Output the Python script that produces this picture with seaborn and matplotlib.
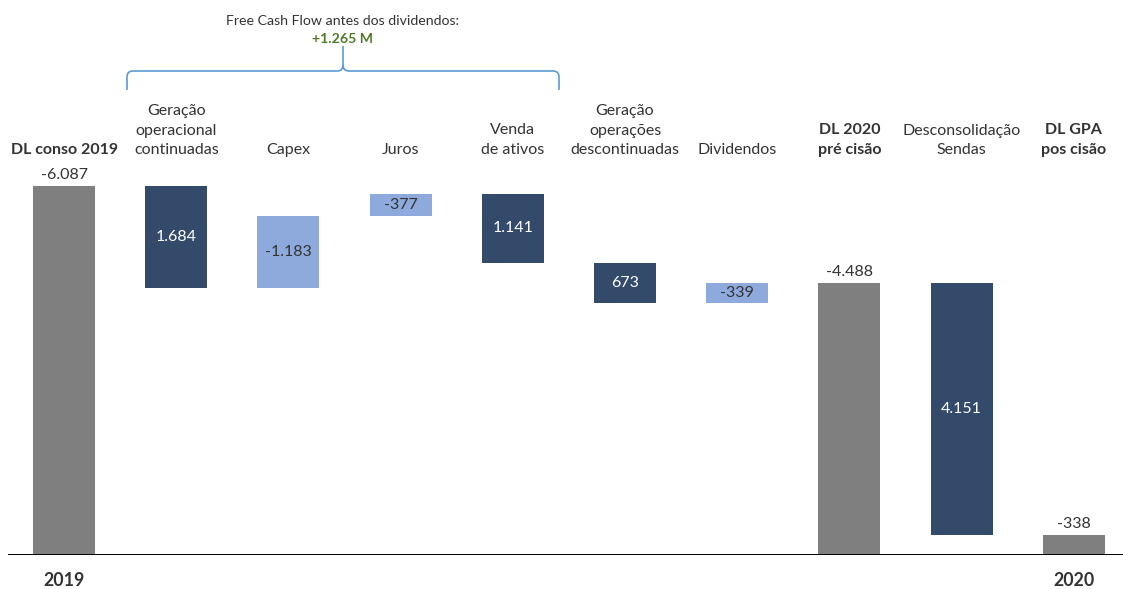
import numpy as np
import pandas as pd
import matplotlib
matplotlib.use("Agg")
import matplotlib.pyplot as plt
import seaborn as sns
from matplotlib.path import Path
from matplotlib.patches import PathPatch
from matplotlib.transforms import blended_transform_factory

# ---------------- data ----------------
categories = ["DL conso 2019", "Geração\noperacional\ncontinuadas", "Capex", "Juros",
              "Venda\nde ativos", "Geração\noperações\ndescontinuadas", "Dividendos",
              "DL 2020\npré cisão", "Desconsolidação\nSendas", "DL GPA\npos cisão"]
values = [-6087, 1684, -1183, -377, 1141, 673, -339, -4488, 4151, -338]
is_total = [True, False, False, False, False, False, False, True, False, True]
value_labels = ["-6.087", "1.684", "-1.183", "-377", "1.141", "673", "-339", "-4.488", "4.151", "-338"]
year_labels = {0: "2019", 9: "2020"}
brace_title = "Free Cash Flow antes dos dividendos:"
brace_value = "+1.265 M"

# ---------------- colors ----------------
GRAY = "#7f7f7f"
NAVY = "#344a6b"
LIGHT = "#8eaadc"
TXT = "#333333"

# ---------------- waterfall geometry from values ----------------
bottoms, heights, colors = [], [], []
level = 0.0
for v, tot in zip(values, is_total):
    if tot:
        level = v
        bottoms.append(0.0)
        heights.append(-v)
        colors.append(GRAY)
    else:
        before = -level
        after = -(level + v)
        bottoms.append(min(before, after))
        heights.append(abs(v))
        colors.append(NAVY if v > 0 else LIGHT)
        level = level + v

df = pd.DataFrame({"cat": [f"c{i}" for i in range(len(categories))],
                   "height": heights})

W, H = 1123, 589
fig = plt.figure(figsize=(W / 100, H / 100), dpi=100)
sns.set_style("white")
plt.rcParams["font.family"] = ["Lato", "DejaVu Sans"]

# axes: baseline at pixel y=555, x from 8 to 1123
ax = fig.add_axes([8 / W, (H - 555) / H, 1 - 8 / W, 555 / H])
sns.barplot(data=df, x="cat", y="height", order=list(df["cat"]), width=0.553,
            bottom=np.array(bottoms), ax=ax, errorbar=None, color=GRAY,
            edgecolor="none")
for p, c in zip(ax.patches, colors):
    p.set_facecolor(c)

scale = 6087 / 369.0  # units per pixel
ax.set_xlim(-0.5, (1123 - 64) / 112.2)
ax.set_ylim(0, 555 * scale)
ax.axhline(0, color="black", lw=1.4)
for s in ax.spines.values():
    s.set_visible(False)
ax.set_xticks([])
ax.set_yticks([])
ax.set_xlabel("")
ax.set_ylabel("")

# ---------------- texts ----------------
tr = blended_transform_factory(ax.transData, fig.transFigure)
FS = 11.5
for i, (cat, tot) in enumerate(zip(categories, is_total)):
    ax.text(i, 1 - 157 / H, cat, transform=tr, ha="center", va="bottom",
            fontsize=FS, color=TXT, fontweight="bold" if tot else "normal",
            linespacing=1.5)

for i, (lab, tot, b, h, c) in enumerate(zip(value_labels, is_total, bottoms, heights, colors)):
    if tot:
        ax.text(i, b + h + 4 * scale, lab, ha="center", va="bottom",
                fontsize=FS, color=TXT)
    else:
        ax.text(i, b + h / 2, lab, ha="center", va="center", fontsize=FS,
                color="white" if c == NAVY else TXT)

for i, y in year_labels.items():
    ax.text(i, 1 - 581 / H, y, transform=tr, ha="center", va="center",
            fontsize=12.8, fontweight="bold", color=TXT)

# ---------------- brace ----------------
def px(x, y):
    return (x / W, 1 - y / H)

r = 6
xl, xr, xc, yb, yh, yt = 127, 559, 343, 90, 71, 46
verts = [px(xl, yb), px(xl, yh + r), px(xl, yh), px(xl + r, yh), px(xc - r, yh),
         px(xc, yh), px(xc, yh - r), px(xc, yt),
         px(xc, yh - r), px(xc, yh), px(xc + r, yh), px(xr - r, yh),
         px(xr, yh), px(xr, yh + r), px(xr, yb)]
codes = [Path.MOVETO, Path.LINETO, Path.CURVE3, Path.CURVE3, Path.LINETO,
         Path.CURVE3, Path.CURVE3, Path.LINETO,
         Path.MOVETO, Path.CURVE3, Path.CURVE3, Path.LINETO,
         Path.CURVE3, Path.CURVE3, Path.LINETO]
fig.patches.append(PathPatch(Path(verts, codes), transform=fig.transFigure,
                             fill=False, edgecolor="#5b9bd5", lw=1.2))

fig.text(xc / W, 1 - 21 / H, brace_title, ha="center", va="center",
         fontsize=10.2, color=TXT)
fig.text(xc / W, 1 - 39 / H, brace_value, ha="center", va="center",
         fontsize=10.2, fontweight="bold", color="#4f7a28")

fig.savefig("out.png", dpi=100)
